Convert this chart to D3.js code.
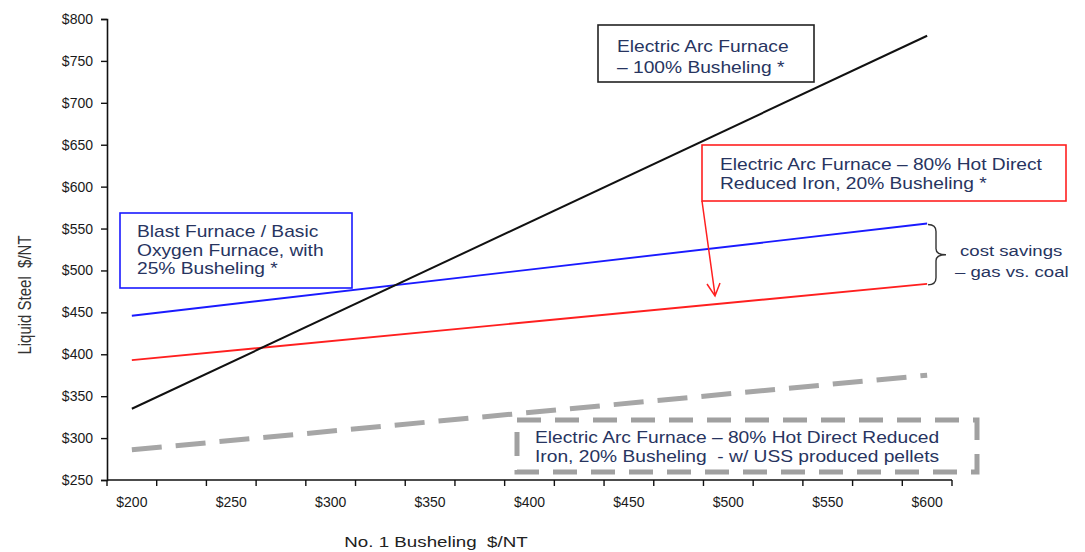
<!DOCTYPE html>
<html>
<head>
<meta charset="utf-8">
<script src="https://cdn.jsdelivr.net/npm/d3@7"></script>
<style>
  html, body { margin: 0; padding: 0; background: #fff; }
  svg { display: block; font-family: "Liberation Sans", Arial, sans-serif; }
  text { white-space: pre; }
</style>
</head>
<body>
<svg id="chart" width="1085" height="552"></svg>
<script>
// No. 1 busheling price categories ($/NT)
const bushelingPrices = [200, 225, 250, 275, 300, 325, 350, 375, 400, 425, 450, 475, 500, 525, 550, 575, 600];
// Categories that carry a tick label
const labeledPrices = [200, 250, 300, 350, 400, 450, 500, 550, 600];
const yTickValues = [250, 300, 350, 400, 450, 500, 550, 600, 650, 700, 750, 800];

// Each cost line is straight: values at the first and last busheling price
const lineEnds = [200, 600];
const eaf100Busheling = [335, 780];     // Electric Arc Furnace – 100% busheling
const bfBof25Busheling = [446, 556];    // Blast Furnace / BOF, 25% busheling
const eafHdri = [393, 484];             // EAF – 80% HDRI, 20% busheling
const eafHdriUss = [286, 375];          // EAF – 80% HDRI, USS produced pellets

const svg = d3.select("#chart");

const x = d3.scaleBand().domain(bushelingPrices).range([107, 952]).padding(0);
const y = d3.scaleLinear().domain([250, 800]).range([480, 19]);
const cx = d => x(d) + x.bandwidth() / 2;

// ---- axes ----
const yAxis = svg.append("g")
  .attr("transform", "translate(107,0)")
  .call(d3.axisLeft(y).tickValues(yTickValues).tickFormat(d => "$" + d).tickSize(6).tickPadding(8));
yAxis.select(".domain").attr("stroke", "#111").attr("stroke-width", 1.6);
yAxis.selectAll(".tick line").attr("stroke", "#111").attr("stroke-width", 1.4);
yAxis.selectAll(".tick text").attr("font-size", 14).attr("fill", "#1a1a1a")
  .attr("font-family", "'Liberation Sans', Arial, sans-serif");

const xAxis = svg.append("g")
  .attr("transform", "translate(0,480)")
  .call(d3.axisBottom(x).tickValues(labeledPrices).tickFormat(d => "$" + d).tickSize(0).tickPadding(17));
xAxis.select(".domain").remove();
xAxis.selectAll(".tick text").attr("font-size", 14).attr("fill", "#1a1a1a")
  .attr("font-family", "'Liberation Sans', Arial, sans-serif");
// baseline and tick marks between categories
svg.append("line")
  .attr("x1", x.range()[0]).attr("x2", x.range()[1])
  .attr("y1", 480).attr("y2", 480)
  .attr("stroke", "#111").attr("stroke-width", 1.6);
const boundaries = bushelingPrices.map(d => x(d)).concat([x.range()[1]]);
svg.append("g").selectAll("line").data(boundaries).join("line")
  .attr("x1", d => d).attr("x2", d => d)
  .attr("y1", 480).attr("y2", 486)
  .attr("stroke", "#111").attr("stroke-width", 1.4);

// axis titles
svg.append("text")
  .attr("transform", "translate(436,547) scale(1.25,1)")
  .attr("text-anchor", "middle")
  .attr("font-size", 15).attr("fill", "#222")
  .text("No. 1 Busheling  $/NT");
svg.append("text")
  .attr("transform", "translate(31,295) rotate(-90) scale(1,1.2)")
  .attr("text-anchor", "middle")
  .attr("font-size", 15).attr("fill", "#333")
  .text("Liquid Steel  $/NT");

// ---- cost lines ----
const line = d3.line().x(d => cx(d[0])).y(d => y(d[1]));
const series = [
  { values: eafHdriUss, color: "#a6a6a6", width: 5, dash: "30 14" },
  { values: eafHdri, color: "#ff1f1f", width: 1.9, dash: null },
  { values: bfBof25Busheling, color: "#1a1aff", width: 1.9, dash: null },
  { values: eaf100Busheling, color: "#111111", width: 2, dash: null }
];
svg.append("g").selectAll("path").data(series).join("path")
  .attr("d", s => line(lineEnds.map((p, i) => [p, s.values[i]])))
  .attr("fill", "none")
  .attr("stroke", s => s.color)
  .attr("stroke-width", s => s.width)
  .attr("stroke-dasharray", s => s.dash);

// ---- annotation boxes ----
const textColor = "#27345f";
function box(x0, y0, w, h, stroke, strokeWidth, dash) {
  svg.append("rect")
    .attr("x", x0).attr("y", y0).attr("width", w).attr("height", h)
    .attr("fill", "none").attr("stroke", stroke)
    .attr("stroke-width", strokeWidth).attr("stroke-dasharray", dash || null);
}
function label(lines, x0, y0, dy, size) {
  lines.forEach((t, i) => {
    svg.append("text")
      .attr("transform", `translate(${x0},${y0 + i * dy}) scale(1.2,1)`)
      .attr("font-size", size || 16).attr("fill", textColor)
      .text(t);
  });
}

box(598, 25, 216, 57, "#222", 1.6);
label(["Electric Arc Furnace", "\u2013 100% Busheling *"], 617, 52, 20.5);

box(702, 145, 364, 56, "#ff2020", 1.6);
label(["Electric Arc Furnace \u2013 80% Hot Direct", "Reduced Iron, 20% Busheling *"], 720, 170, 18.5);

box(120, 213, 232, 75, "#1a1aff", 1.6);
label(["Blast Furnace / Basic", "Oxygen Furnace, with", "25% Busheling *"], 137, 237, 18.5);

box(517, 420, 460, 52, "#a0a0a0", 5, "24 14");
label(["Electric Arc Furnace \u2013 80% Hot Direct Reduced", "Iron, 20% Busheling  - w/ USS produced pellets"], 535, 443, 19);

// arrow from the HDRI box to its line
svg.append("path")
  .attr("d", "M702,201 L715,295 M707,284 L715,296 L720,283")
  .attr("fill", "none").attr("stroke", "#ff2020").attr("stroke-width", 1.5);

// brace spanning the gap between the blast furnace and HDRI lines at $600
const braceTop = y(bfBof25Busheling[1]) + 1, braceBot = y(eafHdri[1]) + 1;
const braceMid = (braceTop + braceBot) / 2;
svg.append("path")
  .attr("d", `M928,${braceTop} Q936,${braceTop} 936,${braceTop + 7} L936,${braceMid - 6}
              Q936,${braceMid} 946,${braceMid} Q936,${braceMid} 936,${braceMid + 6}
              L936,${braceBot - 7} Q936,${braceBot} 928,${braceBot}`)
  .attr("fill", "none").attr("stroke", "#333").attr("stroke-width", 1.4);
label(["cost savings"], 960, 256, 0, 15.5);
label(["\u2013 gas vs. coal"], 955, 277, 0, 15.5);
</script>
</body>
</html>
